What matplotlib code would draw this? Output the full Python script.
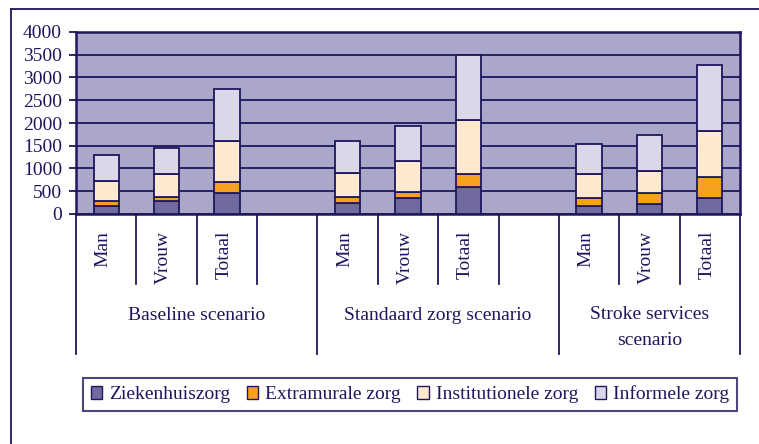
import matplotlib
matplotlib.use("Agg")
import matplotlib.pyplot as plt
from matplotlib.lines import Line2D
import numpy as np

# ---- data ----
groups = ["Baseline scenario", "Standaard zorg scenario", "Stroke services\nscenario"]
subcats = ["Man", "Vrouw", "Totaal"]
series_names = ["Ziekenhuiszorg", "Extramurale zorg", "Institutionele zorg", "Informele zorg"]
ziekenhuis = [175, 285, 470, 250, 345, 595, 175, 220, 345]
extramuraal = [105, 95, 230, 130, 145, 280, 170, 245, 470]
institutioneel = [455, 495, 900, 530, 670, 1200, 530, 485, 1005]
informeel = [565, 575, 1140, 700, 765, 1430, 670, 780, 1455]
yticks = [0, 500, 1000, 1500, 2000, 2500, 3000, 3500, 4000]

colors = ["#716a9e", "#f5a11f", "#fde9cd", "#dad8e8"]
navy = "#1f165e"
bg = "#aaa7c8"

plt.rcParams["font.family"] = ["Liberation Serif", "DejaVu Serif"]
fs = 14

W, H = 759, 444
fig = plt.figure(figsize=(W / 100, H / 100), dpi=100)
L, R, T, B = 76, 740, 32, 214
ax = fig.add_axes([L / W, 1 - B / H, (R - L) / W, (B - T) / H])
ax.set_facecolor(bg)

# slot positions: 3 per group + 1 blank
positions = []
for g in range(len(groups)):
    for s in range(len(subcats)):
        positions.append(g * 4 + s)
positions = np.array(positions, dtype=float)

series = [ziekenhuis, extramuraal, institutioneel, informeel]
bottom = np.zeros(len(positions))
for vals, c, name in zip(series, colors, series_names):
    ax.bar(positions, vals, width=0.42, bottom=bottom, color=c, edgecolor=navy,
           linewidth=1.3, label=name, zorder=3)
    bottom += np.array(vals)

ax.set_xlim(-0.5, 10.5)
ax.set_ylim(0, 4000)
ax.set_yticks(yticks)
ax.set_yticklabels([str(v) for v in yticks], fontsize=fs, color=navy)
ax.tick_params(axis="y", length=5, width=1.3, color=navy, pad=5)
ax.set_xticks([])
ax.yaxis.grid(True, color=navy, linewidth=1.3)
ax.set_axisbelow(True)
for sp in ax.spines.values():
    sp.set_color(navy)
    sp.set_linewidth(1.8)

xt = ax.get_xaxis_transform()


def ay(py):
    return -(py - B) / (B - T)


for k in range(12):
    x = k - 0.5
    end = 354 if (k % 4 == 0 or k == 11) else 284
    ax.plot([x, x], [0, ay(end)], transform=xt, color=navy, lw=1.3, clip_on=False)

for i, p in enumerate(positions):
    ax.text(p - 0.05, ay(231), subcats[i % 3], transform=xt, rotation=90, ha="center",
            va="top", fontsize=fs, color=navy)

group_bounds = [(-0.5, 3.5), (3.5, 7.5), (7.5, 10.5)]
for (g0, g1), name in zip(group_bounds, groups):
    yc = 315 if "\n" not in name else 327.5
    ax.text((g0 + g1) / 2, ay(yc), name, transform=xt, ha="center", va="center",
            fontsize=fs, color=navy, linespacing=1.65)

# legend
leg = fig.legend(loc="center", bbox_to_anchor=((83 + 737) / 2 / W, 1 - 394.5 / H),
                 ncol=4, fontsize=fs, frameon=True, fancybox=False, handlelength=0.6,
                 handleheight=0.7, handletextpad=0.35, columnspacing=0.85,
                 borderpad=0.4, labelcolor=navy)
leg.get_frame().set_edgecolor(navy)
leg.get_frame().set_linewidth(1.5)
for h in leg.legend_handles:
    h.set_linewidth(1.0)

# outer frame (top and left visible)
fig.add_artist(Line2D([11 / W, 11 / W], [0, 1 - 9 / H], color=navy, lw=1.3))
fig.add_artist(Line2D([11 / W, 1], [1 - 9 / H, 1 - 9 / H], color=navy, lw=1.3))

fig.savefig("out.png", dpi=100)
